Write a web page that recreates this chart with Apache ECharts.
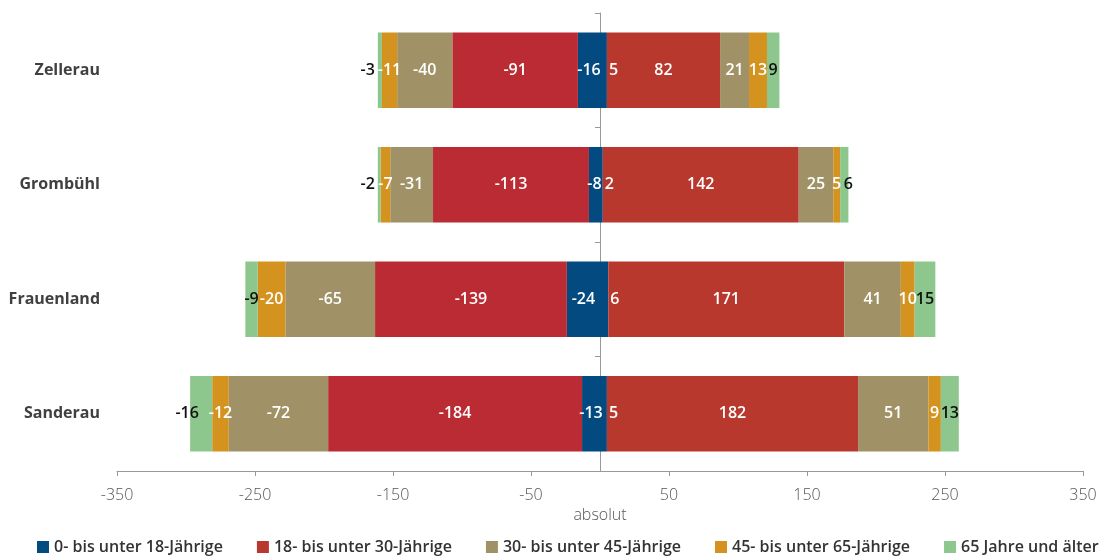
<!DOCTYPE html>
<html>
<head>
<meta charset="utf-8">
<script src="https://cdn.jsdelivr.net/npm/echarts@6/dist/echarts.min.js"></script>
<style>
  html, body { margin: 0; padding: 0; background: #fff; }
  #chart { width: 1107px; height: 557px; }
</style>
</head>
<body>
<div id="chart"></div>
<script>
// Stadtbezirke, von oben nach unten
const districts = ['Zellerau', 'Grombühl', 'Frauenland', 'Sanderau']
const groups = ['0- bis unter 18-Jährige', '18- bis unter 30-Jährige', '30- bis unter 45-Jährige', '45- bis unter 65-Jährige', '65 Jahre und älter']

// Wegzüge (negativ) je Altersgruppe und Bezirk
const neg0to18 = [-16, -8, -24, -13]
const neg18to30 = [-91, -113, -139, -184]
const neg30to45 = [-40, -31, -65, -72]
const neg45to65 = [-11, -7, -20, -12]
const neg65plus = [-3, -2, -9, -16]

// Zuzüge (positiv)
const pos0to18 = [5, 2, 6, 5]
const pos18to30 = [82, 142, 171, 182]
const pos30to45 = [21, 25, 41, 51]
const pos45to65 = [13, 5, 10, 9]
const pos65plus = [9, 6, 15, 13]

const xTicks = [-350, -250, -150, -50, 50, 150, 250, 350]

const font = '"Open Sans", "Noto Sans", sans-serif'

function series(name, data, color, labelOpt, overrides) {
  return {
    name: name,
    type: 'bar',
    stack: 'total',
    barWidth: '66%',
    yAxisIndex: 0,
    itemStyle: { color: color },
    label: Object.assign({
      show: true,
      position: 'inside',
      color: '#fff',
      fontFamily: font,
      fontSize: 16,
      fontWeight: 600
    }, labelOpt || {}),
    data: data.map(function (v, i) {
      if (overrides && overrides[i]) {
        return { value: v, label: overrides[i] }
      }
      return v
    })
  }
}

const chart = echarts.init(document.getElementById('chart'))
chart.setOption({
  animation: false,
  textStyle: { fontFamily: font },
  grid: { left: 117, right: 24, top: 13, bottom: 86, containLabel: false },
  legend: {
    data: groups,
    left: 32,
    top: 534,
    icon: 'rect',
    itemWidth: 12,
    itemHeight: 12,
    itemGap: 34,
    textStyle: { fontFamily: font, fontSize: 16, fontWeight: 600, color: '#333' }
  },
  xAxis: {
    type: 'value',
    min: -350,
    max: 350,
    interval: 100,
    name: 'absolut',
    nameLocation: 'middle',
    nameGap: 33,
    nameTextStyle: { color: '#555', fontSize: 16, fontWeight: 300, fontFamily: font },
    axisLine: { show: true, lineStyle: { color: '#999' } },
    axisTick: { show: true, length: 5, lineStyle: { color: '#999' } },
    axisLabel: {
      color: '#555',
      fontSize: 16,
      fontWeight: 300,
      margin: 16,
      fontFamily: font,
      customValues: xTicks
    },
    splitLine: { show: false }
  },
  yAxis: [{
    type: 'category',
    data: districts,
    inverse: true,
    axisLine: { show: false, onZero: false },
    axisTick: { show: false },
    axisLabel: { color: '#404040', fontSize: 16, fontWeight: 'bold', margin: 17, fontFamily: font }
  }, {
    type: 'category',
    data: districts,
    inverse: true,
    position: 'left',
    axisLine: { show: true, onZero: true, lineStyle: { color: '#999' } },
    axisTick: { show: true, length: 5, lineStyle: { color: '#999' } },
    axisLabel: { show: false }
  }],
  series: [
    series(groups[0], pos0to18, '#024a80', { position: 'right', distance: 2 }),
    series(groups[0], neg0to18, '#024a80'),
    series(groups[1], pos18to30, '#b8382e'),
    series(groups[1], neg18to30, '#bb2b34'),
    series(groups[2], pos30to45, '#a09266'),
    series(groups[2], neg30to45, '#a09266'),
    series(groups[3], pos45to65, '#d4921f'),
    series(groups[3], neg45to65, '#d4921f'),
    series(groups[4], pos65plus, '#8dc78d', { color: '#111' },
      [null, { offset: [4, 0] }, null, null]),
    series(groups[4], neg65plus, '#8dc78d', { color: '#111' },
      [{ position: 'left', distance: 3 }, { position: 'left', distance: 3 }, null, { offset: [-14, 0] }])
  ]
})
</script>
</body>
</html>
